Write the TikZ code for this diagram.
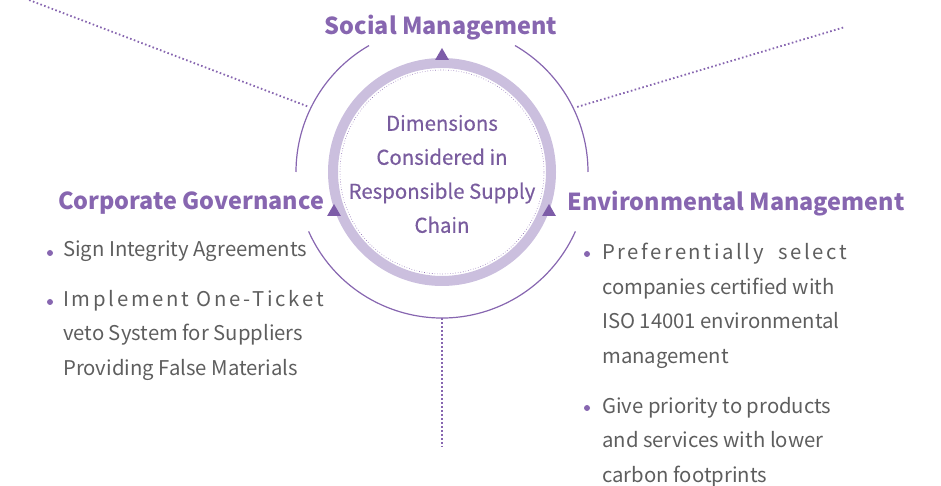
\documentclass[tikz,border=0pt]{standalone}
\usepackage{fontspec}
\setmainfont{Noto Sans CJK SC}
\usepackage{xcolor}
\usepackage{tikz}
\usetikzlibrary{positioning,shapes.geometric,calc}
\definecolor{accent}{HTML}{8766B0}
\definecolor{cring}{HTML}{CBBFDE}
\definecolor{ctri}{HTML}{7D5CA8}
\definecolor{cbody}{HTML}{5E5E5E}

\begin{document}
\begin{tikzpicture}[
  x=1pt, y=1pt,
  hd/.style={font=\fontsize{23.4}{28}\selectfont\bfseries, text=accent, inner sep=0pt},
  hub/.style={font=\fontsize{20.4}{34}\selectfont\addfontfeature{FakeBold=0.4}, text=accent!90!black, align=center, inner sep=0pt},
  body/.style={font=\fontsize{20.3}{34.5}\selectfont, text=cbody, align=left, anchor=north west, inner sep=0pt},
  dot/.style={circle, fill=accent, inner sep=0pt, minimum size=6pt},
  tri/.style={regular polygon, regular polygon sides=3, fill=ctri, inner sep=0pt, minimum size=16pt},
  arc/.style={accent, line width=1.2pt},
  lead/.style={accent, line width=1.8pt, dash pattern=on 1.6pt off 2.4pt},
]
\useasboundingbox (0,0) rectangle (941,486);
% ---------- centre ----------
\node[hub] (hub) at (442,312) {Dimensions\\Considered in\\Responsible Supply\\Chain};
\coordinate (mid) at (442,314);
\draw[cring, line width=10pt] (mid) circle[radius=109];
\draw[accent, line width=0.6pt, dotted] (mid) circle[radius=102];
\draw[arc] ($(mid)+(0:146)$) arc[start angle=0, end angle=60, radius=146];
\draw[arc] ($(mid)+(120:146)$) arc[start angle=120, end angle=180, radius=146];
\draw[arc] ($(mid)+(204:146)$) arc[start angle=204, end angle=336, radius=146];
\node[tri] (t1) at ($(mid)+(0,116)$) {};
\node[tri] (t2) at ($(mid)+(-108,-40)$) {};
\node[tri] (t3) at ($(mid)+(107,-40)$) {};

% ---------- leader lines ----------
\coordinate (ul) at (29,486);
\coordinate (ur) at (845,459);
\coordinate (dn) at (442,39);
\draw[lead] ($(mid)+(154:150)$) -- (ul);
\draw[lead] ($(mid)+(25.7:150)$) -- (ur);
\draw[lead] ($(mid)+(270:146)$) -- (dn);

% ---------- headings ----------
\node[hd] (soc) at (441,458) {Social Management};
\node[hd] (gov) at (191,283) {Corporate Governance};
\node[hd] (env) at (736,282) {Environmental Management};

% ---------- Corporate Governance ----------
\node[dot] (g1) at (50,233) {};
\node[body] (gt1) at (63,245) {Sign Integrity Agreements};
\node[dot] (g2) at (50,184) {};
\node[body] (gt2) at (63,196) {{\addfontfeature{LetterSpace=13.5}Implement One-Ticket}\\veto System for Suppliers\\Providing False Materials};

% ---------- Environmental Management ----------
\node[dot] (e1) at (587,232) {};
\node[body] (et1) at (602,243) {{\addfontfeature{LetterSpace=13}Preferentially\hspace{7pt} select}\\companies certified with\\ISO 14001 environmental\\management};
\node[dot] (e2) at (587,78) {};
\node[body] (et2) at (602,89) {Give priority to products\\and services with lower\\carbon footprints};
\end{tikzpicture}
\end{document}
